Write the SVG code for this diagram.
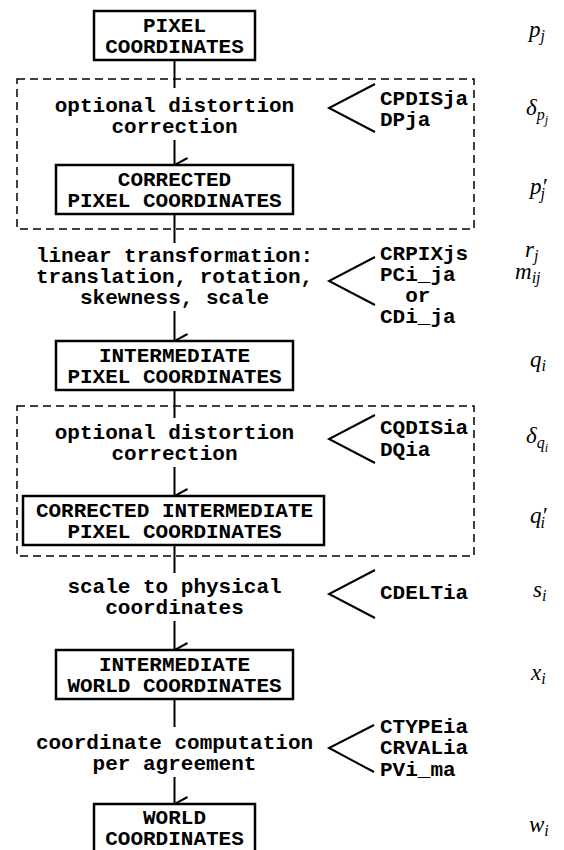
<svg xmlns="http://www.w3.org/2000/svg" width="564" height="850" viewBox="0 0 564 850">
<style>
  .box{fill:#fff;stroke:#000;stroke-width:2.5}
  .dash{fill:none;stroke:#000;stroke-width:1.5;stroke-dasharray:8 5}
  .ln{fill:none;stroke:#000;stroke-width:2}
  .t{font-family:"Liberation Mono","Courier New",monospace;font-weight:bold;font-size:21px;fill:#000}
  .c{text-anchor:middle}
  .m{font-family:"Liberation Serif","Times New Roman",serif;font-style:italic;font-size:23px;fill:#000}
  .s{font-size:16px}
  .ss{font-size:12px}
</style>
<defs>
  <marker id="arr" viewBox="-8 -14 16 15" markerWidth="16" markerHeight="15" refX="0" refY="0" markerUnits="userSpaceOnUse" orient="auto-start-reverse">
    <path d="M-7,-13 L0,0 L7,-13" fill="none" stroke="#000" stroke-width="2"/>
  </marker>
</defs>

<!-- dashed groupings -->
<g id="optional-box-1"><rect class="dash" x="17" y="79" width="457" height="150"/></g>
<g id="optional-box-2"><rect class="dash" x="17" y="406" width="457" height="150"/></g>

<!-- connectors -->
<g id="connectors">
  <line class="ln" x1="174.5" y1="60" x2="174.5" y2="88"/>
  <line class="ln" x1="174.5" y1="140" x2="174.5" y2="165" marker-end="url(#arr)"/>
  <line class="ln" x1="174.5" y1="214" x2="174.5" y2="243"/>
  <line class="ln" x1="174.5" y1="311" x2="174.5" y2="341" marker-end="url(#arr)"/>
  <line class="ln" x1="174.5" y1="390" x2="174.5" y2="418"/>
  <line class="ln" x1="174.5" y1="467" x2="174.5" y2="496" marker-end="url(#arr)"/>
  <line class="ln" x1="174.5" y1="545" x2="174.5" y2="573"/>
  <line class="ln" x1="174.5" y1="621" x2="174.5" y2="650" marker-end="url(#arr)"/>
  <line class="ln" x1="174.5" y1="699" x2="174.5" y2="727"/>
  <line class="ln" x1="174.5" y1="777" x2="174.5" y2="804" marker-end="url(#arr)"/>
</g>

<!-- nodes -->
<g id="pixel-coordinates">
  <rect class="box" x="94" y="11" width="161" height="49"/>
  <text class="t c" x="174.5" y="32">PIXEL</text>
  <text class="t c" x="174.5" y="53">COORDINATES</text>
</g>
<g id="corrected-pixel-coordinates">
  <rect class="box" x="56" y="165" width="237" height="49"/>
  <text class="t c" x="174.5" y="186">CORRECTED</text>
  <text class="t c" x="174.5" y="207">PIXEL COORDINATES</text>
</g>
<g id="intermediate-pixel-coordinates">
  <rect class="box" x="56" y="341" width="237" height="49"/>
  <text class="t c" x="174.5" y="362">INTERMEDIATE</text>
  <text class="t c" x="174.5" y="383">PIXEL COORDINATES</text>
</g>
<g id="corrected-intermediate-pixel-coordinates">
  <rect class="box" x="23" y="496" width="301" height="49"/>
  <text class="t c" x="174.5" y="517">CORRECTED INTERMEDIATE</text>
  <text class="t c" x="174.5" y="538">PIXEL COORDINATES</text>
</g>
<g id="intermediate-world-coordinates">
  <rect class="box" x="56" y="650" width="237" height="49"/>
  <text class="t c" x="174.5" y="671">INTERMEDIATE</text>
  <text class="t c" x="174.5" y="692">WORLD COORDINATES</text>
</g>
<g id="world-coordinates">
  <rect class="box" x="94" y="804" width="161" height="49"/>
  <text class="t c" x="174.5" y="824">WORLD</text>
  <text class="t c" x="174.5" y="845">COORDINATES</text>
</g>

<!-- step labels -->
<g id="step-distortion-1">
  <text class="t c" x="174.5" y="112">optional distortion</text>
  <text class="t c" x="174.5" y="133">correction</text>
  <path class="ln" d="M375,84 L329,108 L375,132"/>
  <text class="t" x="380" y="105">CPDISja</text>
  <text class="t" x="380" y="126">DPja</text>
</g>
<g id="step-linear">
  <text class="t c" x="174.5" y="262">linear transformation:</text>
  <text class="t c" x="174.5" y="283">translation, rotation,</text>
  <text class="t c" x="174.5" y="304">skewness, scale</text>
  <path class="ln" d="M375,257 L329,281 L375,305"/>
  <text class="t" x="380" y="260">CRPIXjs</text>
  <text class="t" x="380" y="281">PCi_ja</text>
  <text class="t" x="405.2" y="302">or</text>
  <text class="t" x="380" y="323">CDi_ja</text>
</g>
<g id="step-distortion-2">
  <text class="t c" x="174.5" y="439">optional distortion</text>
  <text class="t c" x="174.5" y="460">correction</text>
  <path class="ln" d="M375,415 L329,439 L375,463"/>
  <text class="t" x="380" y="434">CQDISia</text>
  <text class="t" x="380" y="456">DQia</text>
</g>
<g id="step-scale">
  <text class="t c" x="174.5" y="593">scale to physical</text>
  <text class="t c" x="174.5" y="614">coordinates</text>
  <path class="ln" d="M375,570 L329,594 L375,618"/>
  <text class="t" x="380" y="599">CDELTia</text>
</g>
<g id="step-computation">
  <text class="t c" x="174.5" y="749">coordinate computation</text>
  <text class="t c" x="174.5" y="770">per agreement</text>
  <path class="ln" d="M374,725 L329,748 L374,772"/>
  <text class="t" x="380" y="733">CTYPEia</text>
  <text class="t" x="380" y="754">CRVALia</text>
  <text class="t" x="380" y="776">PVi_ma</text>
</g>

<!-- math symbols -->
<g id="sym-p"><text class="m" x="529" y="37">p<tspan class="s" dy="4">j</tspan></text></g>
<g id="sym-delta-p"><text class="m" x="526" y="115">δ<tspan class="s" dy="5">p</tspan><tspan class="ss" dy="4">j</tspan></text></g>
<g id="sym-p-prime"><text class="m" x="530" y="194">p′<tspan class="s" dx="-6" dy="5">j</tspan></text></g>
<g id="sym-r"><text class="m" x="525" y="257">r<tspan class="s" dy="4">j</tspan></text></g>
<g id="sym-m"><text class="m" x="515" y="279">m<tspan class="s" dy="4">ij</tspan></text></g>
<g id="sym-q"><text class="m" x="530" y="367">q<tspan class="s" dy="4">i</tspan></text></g>
<g id="sym-delta-q"><text class="m" x="526" y="443">δ<tspan class="s" dy="5">q</tspan><tspan class="ss" dy="4">i</tspan></text></g>
<g id="sym-q-prime"><text class="m" x="530" y="523">q′<tspan class="s" dx="-6" dy="5">i</tspan></text></g>
<g id="sym-s"><text class="m" x="533" y="597">s<tspan class="s" dy="4">i</tspan></text></g>
<g id="sym-x"><text class="m" x="531" y="680">x<tspan class="s" dy="4">i</tspan></text></g>
<g id="sym-w"><text class="m" x="529" y="832">w<tspan class="s" dy="4">i</tspan></text></g>
</svg>
